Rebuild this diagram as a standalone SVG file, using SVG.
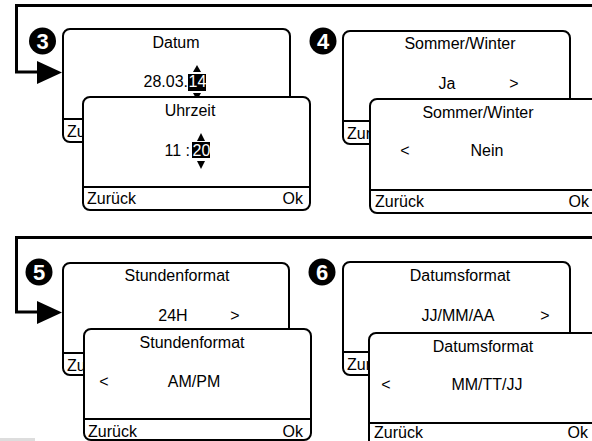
<svg xmlns="http://www.w3.org/2000/svg" width="592" height="441" viewBox="0 0 592 441">
<defs>
<style>
.box{fill:#fff;stroke:#000;stroke-width:2}
.ln{stroke:#000;stroke-width:2}
.t{font-family:"Liberation Sans",Arial,sans-serif;font-size:16px;fill:#000}
.c{text-anchor:middle}
.e{text-anchor:end}
.w{fill:#fff}
.badge{fill:#000}
.bt{font-family:"Liberation Sans",Arial,sans-serif;font-size:22px;font-weight:bold;fill:#fff;text-anchor:middle}
.conn{fill:none;stroke:#000;stroke-width:3}
</style>
</defs>
<rect width="592" height="441" fill="#fff"/>
<rect x="0" y="438" width="35" height="3" fill="#ddd"/>

<g id="connectors">
<path class="conn" d="M592,5.5 H16.5 V72 H40"/>
<path d="M37,61 L62,72.5 L37,84 Z" fill="#000"/>
<path class="conn" d="M592,237.5 H16.5 V312 H40"/>
<path d="M37,301 L62,312.5 L37,324 Z" fill="#000"/>
</g>

<g id="step3">
<circle class="badge" cx="42.5" cy="41" r="13.5"/>
<text class="bt" x="42.5" y="49">3</text>
</g>
<g id="datum">
<rect class="box" x="63" y="29" width="227" height="113" rx="7"/>
<line class="ln" x1="63" y1="119" x2="290" y2="119"/>
<text class="t c" x="176" y="48">Datum</text>
<text class="t e" x="188" y="87">28.03.</text>
<rect x="188" y="74" width="18" height="17" fill="#000"/>
<text class="t w" x="188.5" y="87">14</text>
<path d="M193,72 L197,65 L201,72 Z" fill="#000"/>
<path d="M193,93 L197,100 L201,93 Z" fill="#000"/>
<text class="t" x="67" y="137">Zurück</text>
</g>
<g id="uhrzeit">
<rect class="box" x="83" y="97" width="227" height="113" rx="7"/>
<line class="ln" x1="83" y1="187" x2="310" y2="187"/>
<text class="t c" x="190" y="116">Uhrzeit</text>
<text class="t e" x="190" y="156">11 :</text>
<rect x="192" y="142" width="18" height="16" fill="#000"/>
<text class="t w" x="192.5" y="156">20</text>
<path d="M197,141 L201,133 L205,141 Z" fill="#000"/>
<path d="M197,161 L201,169 L205,161 Z" fill="#000"/>
<text class="t" x="87" y="204">Zurück</text>
<text class="t e" x="303" y="204">Ok</text>
</g>

<g id="step4">
<circle class="badge" cx="323" cy="41" r="13.5"/>
<text class="bt" x="323" y="49">4</text>
</g>
<g id="sommer-ja">
<rect class="box" x="343" y="31" width="227" height="113" rx="7"/>
<line class="ln" x1="343" y1="121" x2="570" y2="121"/>
<text class="t c" x="460" y="49">Sommer/Winter</text>
<text class="t c" x="447" y="89">Ja</text>
<text class="t c" x="514" y="89">&gt;</text>
<text class="t" x="347" y="139">Zurück</text>
</g>
<g id="sommer-nein">
<rect class="box" x="370" y="99" width="230" height="114" rx="7"/>
<line class="ln" x1="370" y1="190" x2="600" y2="190"/>
<text class="t c" x="478" y="118">Sommer/Winter</text>
<text class="t c" x="405" y="156">&lt;</text>
<text class="t c" x="487" y="156">Nein</text>
<text class="t" x="375" y="207">Zurück</text>
<text class="t e" x="589" y="207">Ok</text>
</g>

<g id="step5">
<circle class="badge" cx="39" cy="272" r="13.5"/>
<text class="bt" x="39" y="280">5</text>
</g>
<g id="stunden-24">
<rect class="box" x="63" y="263" width="226" height="112" rx="7"/>
<line class="ln" x1="63" y1="353" x2="289" y2="353"/>
<text class="t c" x="177" y="281">Stundenformat</text>
<text class="t c" x="173" y="321">24H</text>
<text class="t c" x="235" y="321">&gt;</text>
<text class="t" x="67" y="371">Zurück</text>
</g>
<g id="stunden-ampm">
<rect class="box" x="84" y="329" width="227" height="111" rx="7"/>
<line class="ln" x1="84" y1="419" x2="311" y2="419"/>
<text class="t c" x="192" y="348">Stundenformat</text>
<text class="t c" x="104" y="387">&lt;</text>
<text class="t c" x="194" y="387">AM/PM</text>
<text class="t" x="88" y="437">Zurück</text>
<text class="t e" x="303" y="437">Ok</text>
</g>

<g id="step6">
<circle class="badge" cx="322" cy="272" r="13.5"/>
<text class="bt" x="322" y="280">6</text>
</g>
<g id="datum-jj">
<rect class="box" x="343" y="262" width="227" height="113" rx="7"/>
<line class="ln" x1="343" y1="352" x2="570" y2="352"/>
<text class="t c" x="460" y="281">Datumsformat</text>
<text class="t c" x="458" y="321">JJ/MM/AA</text>
<text class="t c" x="545" y="321">&gt;</text>
<text class="t" x="347" y="370">Zurück</text>
</g>
<g id="datum-mm">
<rect class="box" x="369" y="333" width="231" height="120" rx="7"/>
<line class="ln" x1="369" y1="423" x2="600" y2="423"/>
<text class="t c" x="483" y="352">Datumsformat</text>
<text class="t c" x="386" y="390">&lt;</text>
<text class="t c" x="487" y="390">MM/TT/JJ</text>
<text class="t" x="374" y="438">Zurück</text>
<text class="t e" x="588" y="438">Ok</text>
</g>
</svg>
